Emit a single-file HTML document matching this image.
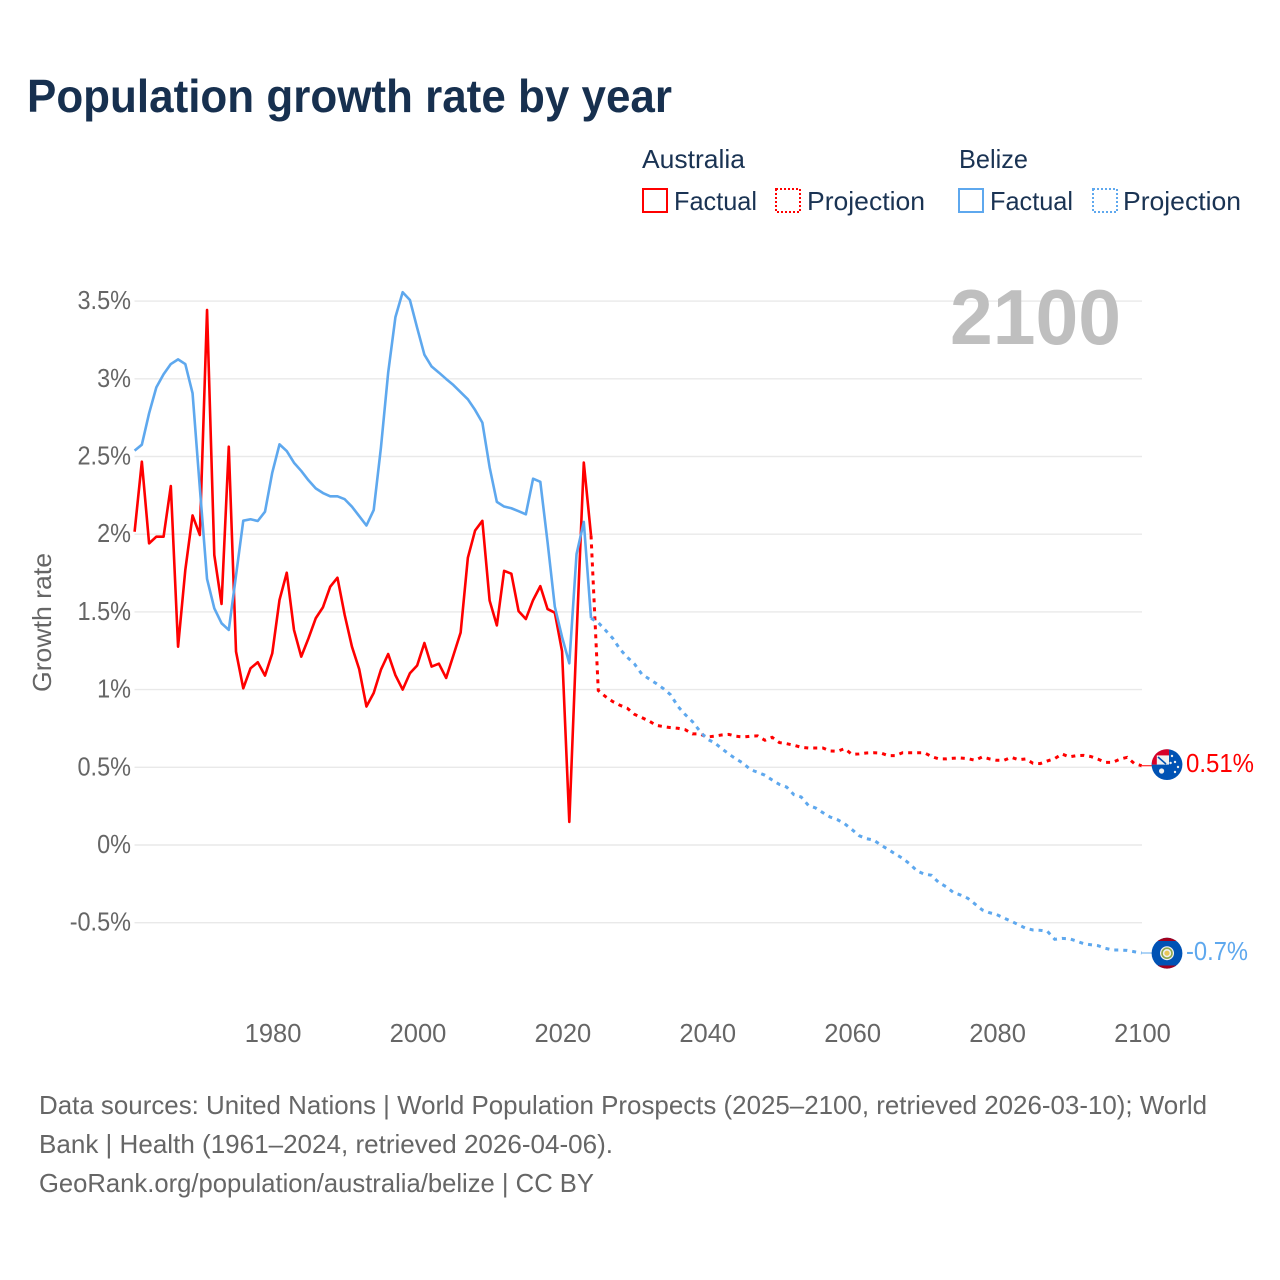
<!DOCTYPE html>
<html lang="en">
<head>
<meta charset="utf-8">
<title>Population growth rate by year</title>
<style>
html,body{margin:0;padding:0;background:#fff;}
svg{display:block;}
text{font-family:"Liberation Sans",sans-serif;}
</style>
</head>
<body>
<svg id="chart" xmlns="http://www.w3.org/2000/svg" width="1280" height="1280" viewBox="0 0 1280 1280">
  <defs>
    <clipPath id="clip-au"><circle cx="1167" cy="764.6" r="15.4"/></clipPath>
    <clipPath id="clip-bz"><circle cx="1167" cy="953.2" r="15.4"/></clipPath>
  </defs>
  <rect width="1280" height="1280" fill="#ffffff"/>
  <text x="27" y="112" font-size="46" font-weight="700" fill="#17304f" textLength="645" lengthAdjust="spacingAndGlyphs">Population growth rate by year</text>

  <g font-size="26" fill="#1a3353">
    <text x="642" y="168" textLength="103" lengthAdjust="spacingAndGlyphs">Australia</text>
    <text x="959" y="168" textLength="69" lengthAdjust="spacingAndGlyphs">Belize</text>
    <g>
      <rect x="643" y="189" width="24" height="23" fill="none" stroke="#ff0000" stroke-width="2"/>
      <text x="674" y="210" textLength="83" lengthAdjust="spacingAndGlyphs">Factual</text>
    </g>
    <g>
      <rect x="776" y="189" width="24" height="23" fill="none" stroke="#ff0000" stroke-width="2" stroke-dasharray="2 2"/>
      <text x="807" y="210" textLength="118" lengthAdjust="spacingAndGlyphs">Projection</text>
    </g>
    <g>
      <rect x="959" y="189" width="24" height="23" fill="none" stroke="#5ea8ee" stroke-width="2"/>
      <text x="990" y="210" textLength="83" lengthAdjust="spacingAndGlyphs">Factual</text>
    </g>
    <g>
      <rect x="1093" y="189" width="24" height="23" fill="none" stroke="#5ea8ee" stroke-width="2" stroke-dasharray="2 2"/>
      <text x="1123" y="210" textLength="118" lengthAdjust="spacingAndGlyphs">Projection</text>
    </g>
  </g>

  <g id="grid"></g>
  <g id="yticks"></g>
  <g id="xticks"></g>
  <text transform="translate(51,692) rotate(-90)" font-size="26" fill="#666666" textLength="139" lengthAdjust="spacingAndGlyphs">Growth rate</text>
  <text x="1121" y="344" text-anchor="end" font-size="78" font-weight="700" fill="#bfbfbf" textLength="171" lengthAdjust="spacingAndGlyphs">2100</text>
  <g id="series"></g>

  <g clip-path="url(#clip-au)">
    <rect x="1150" y="748" width="34" height="34" fill="#0052b4"/>
    <rect x="1152" y="749" width="17" height="15.6" fill="#f0f0f0"/>
    <rect x="1152" y="749" width="17" height="6.4" fill="#d80027"/>
    <rect x="1152" y="749" width="4.8" height="15.6" fill="#d80027"/>
    <path d="M1158 757 L1166 764" stroke="#0052b4" stroke-width="1.6"/>
    <circle cx="1161.6" cy="771" r="2.6" fill="#f0f0f0"/>
    <circle cx="1170.6" cy="763" r="1.2" fill="#f0f0f0"/>
    <circle cx="1175" cy="762" r="1.2" fill="#f0f0f0"/>
    <circle cx="1178" cy="767" r="1.2" fill="#f0f0f0"/>
    <circle cx="1175" cy="772" r="1.2" fill="#f0f0f0"/>
    <circle cx="1172" cy="756" r="1.2" fill="#f0f0f0"/>
  </g>
  <text x="1186" y="772" font-size="26" fill="#ff0000" textLength="68" lengthAdjust="spacingAndGlyphs">0.51%</text>

  <g clip-path="url(#clip-bz)">
    <rect x="1150" y="936" width="34" height="34" fill="#0052b4"/>
    <rect x="1150" y="936" width="34" height="5" fill="#a2001d"/>
    <rect x="1150" y="965.5" width="34" height="5" fill="#a2001d"/>
    <circle cx="1167" cy="953.2" r="7" fill="#f0f0f0"/>
    <circle cx="1167" cy="953.2" r="5" fill="none" stroke="#8fa84a" stroke-width="1.6"/>
    <circle cx="1167" cy="953.2" r="2.6" fill="#e8c65a"/>
  </g>
  <text x="1186" y="960" font-size="26" fill="#5ea8ee" textLength="62" lengthAdjust="spacingAndGlyphs">-0.7%</text>

  <g font-size="26" fill="#666666">
    <text x="39" y="1114" textLength="1168" lengthAdjust="spacingAndGlyphs">Data sources: United Nations | World Population Prospects (2025–2100, retrieved 2026-03-10); World</text>
    <text x="39" y="1153" textLength="574" lengthAdjust="spacingAndGlyphs">Bank | Health (1961–2024, retrieved 2026-04-06).</text>
    <text x="39" y="1192" textLength="555" lengthAdjust="spacingAndGlyphs">GeoRank.org/population/australia/belize | CC BY</text>
  </g>
</svg>
<script>
const yTickValues = [-0.5, 0, 0.5, 1, 1.5, 2, 2.5, 3, 3.5];
const yTickLabels = ["-0.5%", "0%", "0.5%", "1%", "1.5%", "2%", "2.5%", "3%", "3.5%"];
const xTickValues = [1980, 2000, 2020, 2040, 2060, 2080, 2100];
const xTickLabels = ["1980", "2000", "2020", "2040", "2060", "2080", "2100"];

const factualYears = [1961,1962,1963,1964,1965,1966,1967,1968,1969,1970,1971,1972,1973,1974,1975,1976,1977,1978,1979,1980,1981,1982,1983,1984,1985,1986,1987,1988,1989,1990,1991,1992,1993,1994,1995,1996,1997,1998,1999,2000,2001,2002,2003,2004,2005,2006,2007,2008,2009,2010,2011,2012,2013,2014,2015,2016,2017,2018,2019,2020,2021,2022,2023,2024];
const projectionYears = [2024,2025,2026,2027,2028,2029,2030,2031,2032,2033,2034,2035,2036,2037,2038,2039,2040,2041,2042,2043,2044,2045,2046,2047,2048,2049,2050,2051,2052,2053,2054,2055,2056,2057,2058,2059,2060,2061,2062,2063,2064,2065,2066,2067,2068,2069,2070,2071,2072,2073,2074,2075,2076,2077,2078,2079,2080,2081,2082,2083,2084,2085,2086,2087,2088,2089,2090,2091,2092,2093,2094,2095,2096,2097,2098,2099,2100];

const australiaFactual = [2.016,2.467,1.941,1.984,1.984,2.31,1.276,1.77,2.121,1.995,3.443,1.866,1.551,2.563,1.244,1.008,1.137,1.176,1.09,1.233,1.577,1.752,1.384,1.212,1.33,1.459,1.53,1.662,1.72,1.48,1.276,1.132,0.891,0.978,1.128,1.229,1.093,1.0,1.105,1.155,1.3,1.148,1.167,1.075,1.22,1.367,1.849,2.024,2.086,1.573,1.413,1.764,1.746,1.505,1.454,1.576,1.666,1.518,1.495,1.247,0.148,1.34,2.461,1.992];
const belizeFactual = [2.538,2.576,2.778,2.945,3.029,3.095,3.125,3.095,2.907,2.3,1.712,1.523,1.427,1.384,1.735,2.087,2.096,2.085,2.145,2.396,2.578,2.535,2.46,2.407,2.347,2.295,2.265,2.244,2.244,2.225,2.177,2.117,2.056,2.155,2.557,3.04,3.397,3.557,3.507,3.328,3.155,3.079,3.04,2.999,2.96,2.914,2.868,2.799,2.718,2.431,2.208,2.178,2.167,2.148,2.128,2.357,2.337,1.948,1.534,1.339,1.169,1.872,2.079,1.459];
const australiaProjection = [1.992,0.994,0.955,0.923,0.899,0.88,0.841,0.82,0.798,0.77,0.762,0.755,0.751,0.742,0.715,0.715,0.695,0.7,0.708,0.712,0.7,0.695,0.7,0.702,0.674,0.693,0.659,0.652,0.642,0.629,0.624,0.624,0.624,0.605,0.603,0.62,0.584,0.586,0.592,0.594,0.592,0.575,0.575,0.594,0.594,0.594,0.594,0.569,0.554,0.554,0.558,0.56,0.556,0.545,0.567,0.554,0.545,0.545,0.564,0.549,0.554,0.526,0.524,0.541,0.556,0.586,0.567,0.575,0.577,0.569,0.552,0.532,0.532,0.552,0.564,0.524,0.51];
const belizeProjection = [1.459,1.431,1.382,1.33,1.26,1.208,1.165,1.1,1.069,1.039,1.006,0.966,0.891,0.839,0.794,0.734,0.682,0.659,0.622,0.586,0.554,0.526,0.485,0.468,0.449,0.418,0.39,0.373,0.324,0.309,0.255,0.238,0.208,0.18,0.163,0.137,0.1,0.06,0.041,0.032,0,-0.028,-0.058,-0.086,-0.122,-0.167,-0.187,-0.195,-0.242,-0.268,-0.305,-0.322,-0.343,-0.38,-0.418,-0.436,-0.448,-0.47,-0.491,-0.513,-0.536,-0.547,-0.549,-0.556,-0.607,-0.601,-0.603,-0.618,-0.635,-0.642,-0.648,-0.665,-0.676,-0.676,-0.678,-0.687,-0.695];

const SVG_NS = "http://www.w3.org/2000/svg";
const RED = "#ff0000";
const BLUE = "#5ea8ee";

function xScale(year) { return 134.6 + (year - 1961) * 7.245; }
function yScale(value) { return 845 - value * 155.4; }
function make(tag, parent) {
  const el = document.createElementNS(SVG_NS, tag);
  parent.appendChild(el);
  return el;
}
function linePoints(years, values) {
  return years.map(function (year, i) {
    return xScale(year).toFixed(2) + "," + yScale(values[i]).toFixed(2);
  }).join(" ");
}

const gridGroup = document.getElementById("grid");
const yTickGroup = document.getElementById("yticks");
yTickValues.forEach(function (value, i) {
  const line = make("line", gridGroup);
  
  
  line.setAttribute("x1", 134.5);
  line.setAttribute("x2", 1142);
  line.setAttribute("y1", yScale(value));
  line.setAttribute("y2", yScale(value));
  line.setAttribute("stroke", "#e9e9e9");
  line.setAttribute("stroke-width", 1.4);
  const label = make("text", yTickGroup);
  
  
  label.setAttribute("x", 131);
  label.setAttribute("y", yScale(value) + 8);
  label.setAttribute("text-anchor", "end");
  label.setAttribute("font-size", 25.5);
  label.setAttribute("fill", "#666666");
  label.textContent = yTickLabels[i];
  label.setAttribute("textLength", (label.getComputedTextLength() * 0.92).toFixed(1));
  label.setAttribute("lengthAdjust", "spacingAndGlyphs");
});

const xTickGroup = document.getElementById("xticks");
xTickValues.forEach(function (year, i) {
  const label = make("text", xTickGroup);
  
  
  label.setAttribute("x", xScale(year) + 0.8);
  label.setAttribute("y", 1042);
  label.setAttribute("text-anchor", "middle");
  label.setAttribute("font-size", 25.5);
  label.setAttribute("fill", "#666666");
  label.textContent = xTickLabels[i];
});

const seriesGroup = document.getElementById("series");

const australiaProjectionLine = make("polyline", seriesGroup);


australiaProjectionLine.setAttribute("points", linePoints(projectionYears, australiaProjection));
australiaProjectionLine.setAttribute("fill", "none");
australiaProjectionLine.setAttribute("stroke", RED);
australiaProjectionLine.setAttribute("stroke-width", 3);
australiaProjectionLine.setAttribute("stroke-dasharray", "4 5");

const belizeProjectionLine = make("polyline", seriesGroup);


belizeProjectionLine.setAttribute("points", linePoints(projectionYears, belizeProjection));
belizeProjectionLine.setAttribute("fill", "none");
belizeProjectionLine.setAttribute("stroke", BLUE);
belizeProjectionLine.setAttribute("stroke-width", 3);
belizeProjectionLine.setAttribute("stroke-dasharray", "4 5");

const australiaFactualLine = make("polyline", seriesGroup);


australiaFactualLine.setAttribute("points", linePoints(factualYears, australiaFactual));
australiaFactualLine.setAttribute("fill", "none");
australiaFactualLine.setAttribute("stroke", RED);
australiaFactualLine.setAttribute("stroke-width", 2.6);
australiaFactualLine.setAttribute("stroke-linejoin", "round");

const belizeFactualLine = make("polyline", seriesGroup);


belizeFactualLine.setAttribute("points", linePoints(factualYears, belizeFactual));
belizeFactualLine.setAttribute("fill", "none");
belizeFactualLine.setAttribute("stroke", BLUE);
belizeFactualLine.setAttribute("stroke-width", 2.6);
belizeFactualLine.setAttribute("stroke-linejoin", "round");

const australiaConnector = make("line", seriesGroup);


australiaConnector.setAttribute("x1", xScale(2100));
australiaConnector.setAttribute("x2", 1152);
australiaConnector.setAttribute("y1", yScale(australiaProjection[australiaProjection.length - 1]));
australiaConnector.setAttribute("y2", yScale(australiaProjection[australiaProjection.length - 1]));
australiaConnector.setAttribute("stroke", RED);
australiaConnector.setAttribute("stroke-width", 1);

const belizeConnector = make("line", seriesGroup);


belizeConnector.setAttribute("x1", xScale(2100));
belizeConnector.setAttribute("x2", 1152);
belizeConnector.setAttribute("y1", yScale(belizeProjection[belizeProjection.length - 1]));
belizeConnector.setAttribute("y2", yScale(belizeProjection[belizeProjection.length - 1]));
belizeConnector.setAttribute("stroke", BLUE);
belizeConnector.setAttribute("stroke-width", 1);
</script>
</body>
</html>
